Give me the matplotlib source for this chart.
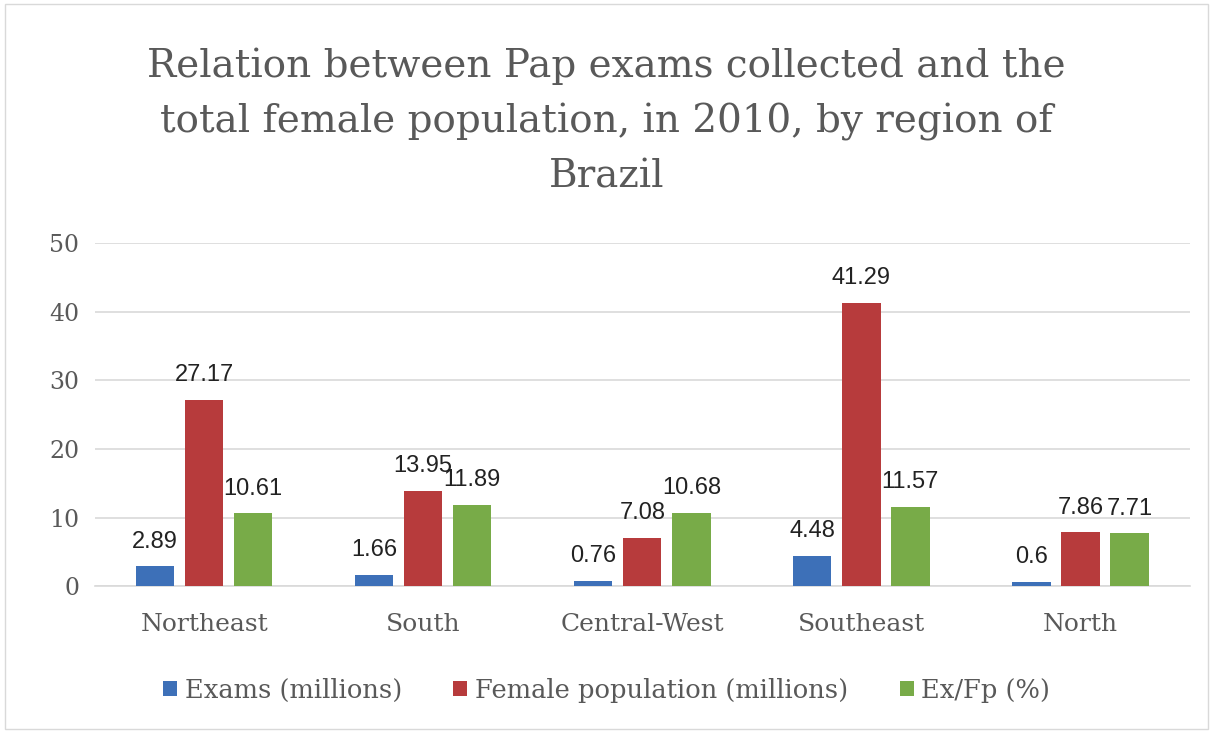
import numpy as np
import matplotlib.pyplot as plt
from matplotlib.patches import Rectangle

regions = ["Northeast", "South", "Central-West", "Southeast", "North"]
exams = [2.89, 1.66, 0.76, 4.48, 0.6]
female_pop = [27.17, 13.95, 7.08, 41.29, 7.86]
ratio = [10.61, 11.89, 10.68, 11.57, 7.71]
series_names = ["Exams (millions)", "Female population (millions)", "Ex/Fp (%)"]
colors = ["#3D70B8", "#B73B3C", "#78AB48"]

TEXT = "#595959"
SERIF = ["DejaVu Serif"]

fig = plt.figure(figsize=(12.13, 7.32), dpi=100)
fig.patches.append(Rectangle((0.004, 0.004), 0.992, 0.99, transform=fig.transFigure,
                             fill=False, edgecolor="#D9D9D9", linewidth=1.0))

ax = fig.add_axes([0.078, 0.199, 0.903, 0.469])
x = np.arange(len(regions))
width = 0.175
step = 0.224

for i, (vals, name, col) in enumerate(zip([exams, female_pop, ratio], series_names, colors)):
    pos = x + (i - 1) * step
    bars = ax.bar(pos, vals, width, color=col, label=name, zorder=3)
    for b, v in zip(bars, vals):
        ax.text(b.get_x() + b.get_width() / 2, v + 2.0, f"{v:g}",
                ha="center", va="bottom", fontsize=17, color="#222222",
                family="Liberation Sans")

ax.set_xlim(-0.5, len(regions) - 0.5)
ax.set_ylim(0, 50)
ax.set_yticks(range(0, 51, 10))
ax.yaxis.grid(True, color="#D9D9D9", linewidth=1.2, zorder=0)
ax.set_axisbelow(True)
for s in ["top", "right", "left"]:
    ax.spines[s].set_visible(False)
ax.spines["bottom"].set_color("#D9D9D9")
ax.spines["bottom"].set_linewidth(1.2)
ax.tick_params(axis="both", length=0, colors=TEXT)
ax.tick_params(axis="y", pad=11)
ax.tick_params(axis="x", pad=19)
ax.set_xticks(x)
ax.set_xticklabels(regions, fontsize=18, family=SERIF, color=TEXT)
for lab in ax.get_yticklabels():
    lab.set_fontsize(17)
    lab.set_family(SERIF)

fig.text(0.5, 0.834,
         "Relation between Pap exams collected and the\n"
         "total female population, in 2010, by region of\nBrazil",
         ha="center", va="center", fontsize=28, family=SERIF, color=TEXT,
         linespacing=1.62)

leg = fig.legend(loc="center", bbox_to_anchor=(0.5, 0.057), ncol=3, frameon=False,
                 prop={"family": SERIF, "size": 18.5}, handlelength=0.55, handleheight=0.55,
                 handletextpad=0.3, columnspacing=2.0)
for t in leg.get_texts():
    t.set_color(TEXT)

fig.savefig("out.png", dpi=100)
